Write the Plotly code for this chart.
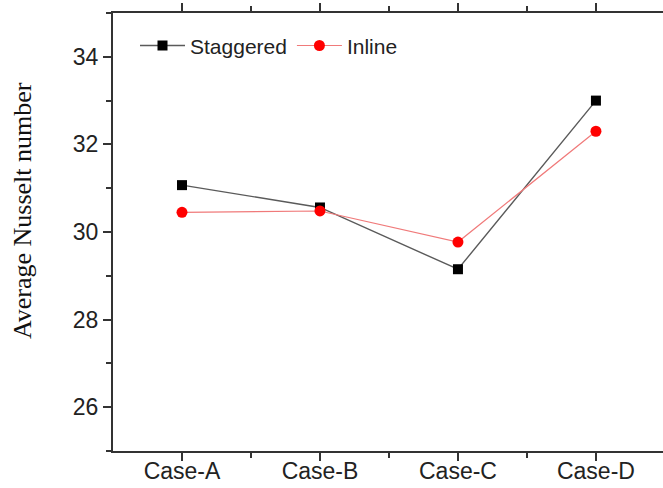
import plotly.graph_objects as go

# Average Nusselt number per tube-bank case
cases = ["Case-A", "Case-B", "Case-C", "Case-D"]
case_pos = [1, 2, 3, 4]
staggered = [31.07, 30.56, 29.15, 33.00]
inline = [30.45, 30.48, 29.77, 32.30]

y_ticks = [26, 28, 30, 32, 34]

fig = go.Figure()

fig.add_trace(go.Scatter(
    x=case_pos, y=staggered, name="Staggered", mode="lines+markers",
    line=dict(color="#5a5a5a", width=1.4),
    marker=dict(symbol="square", size=10, color="#000000"),
))
fig.add_trace(go.Scatter(
    x=case_pos, y=inline, name="Inline", mode="lines+markers",
    line=dict(color="#f07a7a", width=1.2),
    marker=dict(symbol="circle", size=11, color="#ff0000"),
))

axis_common = dict(
    showline=True, linecolor="#333333", linewidth=2,
    ticks="outside", ticklen=8, tickwidth=1.5, tickcolor="#333333",
    showgrid=False, zeroline=False, mirror="ticks", automargin=False,
    tickfont=dict(family="Liberation Sans, Arial, sans-serif", size=23, color="#222222"),
)

fig.update_xaxes(
    range=[0.5, 4.486],
    tickmode="array", tickvals=case_pos, ticktext=cases,
    ticklabelstandoff=-10,
    minor=dict(tickmode="array", tickvals=[1.5, 2.5, 3.5],
               ticks="outside", ticklen=5, tickwidth=1.5, tickcolor="#333333"),
    **axis_common,
)
fig.update_yaxes(
    range=[25, 35],
    tickmode="array", tickvals=y_ticks,
    minor=dict(tickmode="array", tickvals=[25, 27, 29, 31, 33, 35],
               ticks="outside", ticklen=5, tickwidth=1.5, tickcolor="#333333"),
    **axis_common,
)

# y-axis title placed as a rotated annotation
fig.add_annotation(
    text="Average Nusselt number", textangle=-90,
    xref="paper", yref="paper", x=-0.1655, y=0.55,
    xanchor="center", yanchor="middle", showarrow=False,
    font=dict(family="Liberation Serif, Times New Roman, serif", size=26, color="#111111"),
)

fig.update_layout(
    width=663, height=488,
    margin=dict(l=113, r=0, t=13, b=37),
    plot_bgcolor="white", paper_bgcolor="white",
    showlegend=True,
    legend=dict(
        orientation="h", x=0.04, y=0.925, xanchor="left", yanchor="middle",
        bgcolor="rgba(0,0,0,0)", itemwidth=45,
        font=dict(family="Liberation Sans, Arial, sans-serif", size=21, color="#222222"),
    ),
)

fig.write_html("out.html")
